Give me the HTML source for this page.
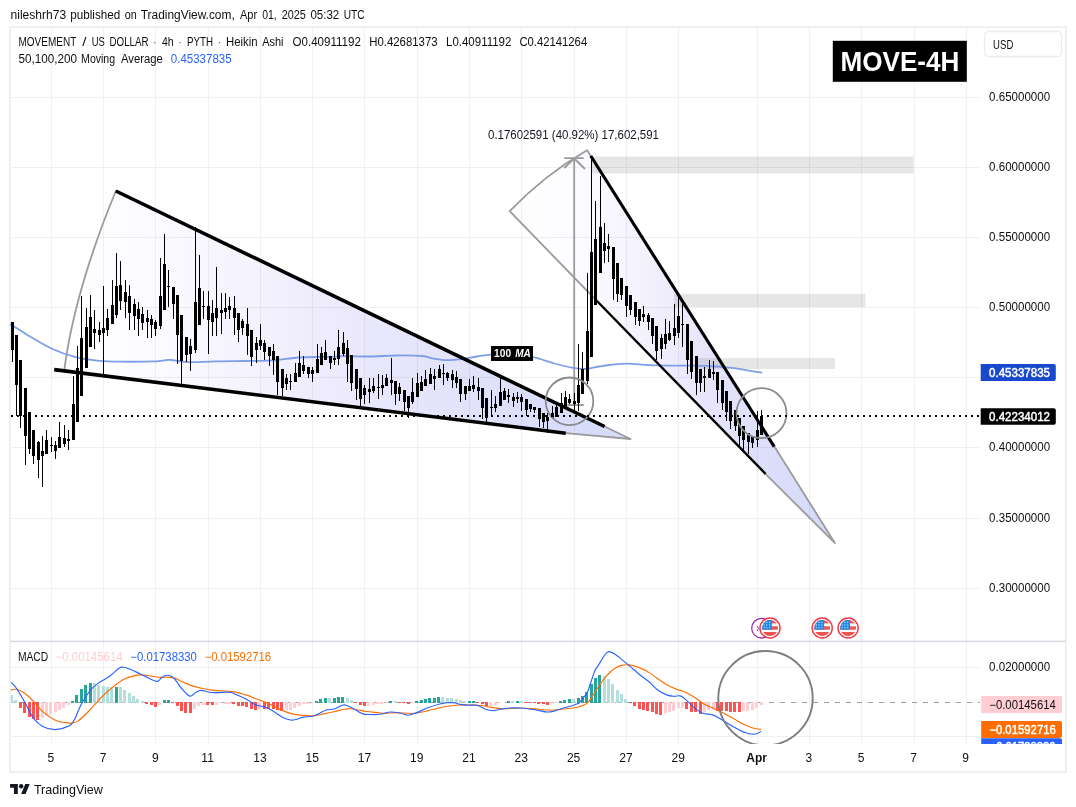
<!DOCTYPE html>
<html lang="en"><head><meta charset="utf-8"><title>MOVE-4H chart</title>
<style>
html,body{margin:0;padding:0;background:#fff;}
body{width:1076px;height:807px;overflow:hidden;position:relative;font-family:"Liberation Sans", Arial, sans-serif;}
svg{position:absolute;left:0;top:0;display:block}
text{font-family:"Liberation Sans", Arial, sans-serif;}
</style></head><body>
<svg width="1076" height="807" viewBox="0 0 1076 807">
<defs>
<linearGradient id="g1" gradientUnits="userSpaceOnUse" x1="64" y1="0" x2="630" y2="0">
<stop offset="0" stop-color="#ffffff"/><stop offset="0.2" stop-color="#faf9ff"/><stop offset="0.55" stop-color="#e9e7fb"/><stop offset="0.85" stop-color="#dbdefa"/><stop offset="1" stop-color="#d3dcfa"/>
</linearGradient>
<linearGradient id="g2" gradientUnits="userSpaceOnUse" x1="510" y1="0" x2="835" y2="0">
<stop offset="0" stop-color="#ffffff"/><stop offset="0.25" stop-color="#fbfaff"/><stop offset="0.4" stop-color="#f4f2fd"/><stop offset="0.6" stop-color="#e8e5fb"/><stop offset="0.8" stop-color="#dcdefa"/><stop offset="1" stop-color="#d3dcfa"/>
</linearGradient>
<clipPath id="cm"><rect x="11" y="642" width="1055" height="102"/></clipPath>
<clipPath id="flag"><circle cx="0" cy="0" r="8"/></clipPath>
<g id="us">
<circle cx="0" cy="0" r="10.05" fill="#fff" stroke="#f23645" stroke-width="1.45"/>
<g clip-path="url(#flag)">
<rect x="-8" y="-8" width="16" height="16" fill="#fbfcff"/>
<rect x="-8" y="-8" width="16" height="3.4" fill="#ef5350"/>
<rect x="-8" y="-1.7" width="16" height="3.4" fill="#ef5350"/>
<rect x="-8" y="4" width="16" height="4" fill="#ef5350"/>
<rect x="-8" y="-8" width="9.9" height="9.7" fill="#1e88e5"/>
<g fill="#fff"><rect x="-6.4" y="-6.1" width="1" height="1"/><rect x="-3.7" y="-6.1" width="1" height="1"/><rect x="-0.9" y="-6.1" width="1" height="1"/>
<rect x="-6.4" y="-3.5" width="1" height="1"/><rect x="-3.7" y="-3.5" width="1" height="1"/><rect x="-0.9" y="-3.5" width="1" height="1"/>
<rect x="-6.4" y="-0.8" width="1" height="1"/><rect x="-3.7" y="-0.8" width="1" height="1"/><rect x="-0.9" y="-0.8" width="1" height="1"/></g>
</g></g>
</defs>

<rect x="10" y="27" width="1056" height="745" fill="#fff" stroke="#efefef" stroke-width="1.8"/>
<rect x="10" y="640.6" width="1056" height="1.6" fill="#d6d9e0"/>
<path d="M64.5 368.5Q75 290 115.8 191L604.6 426.5L630.5 439L565.7 433.2L54.2 369.6Z" fill="url(#g1)"/>
<path d="M509.7 211.2Q544 175.2 587 150.2L591.5 157L774.4 446.6L835 543.2L765.5 473.8Z" fill="url(#g2)"/>
<rect x="591.5" y="156.5" width="322.2" height="17" fill="#808080" fill-opacity="0.2"/>
<rect x="674" y="294" width="191.5" height="13" fill="#808080" fill-opacity="0.2"/>
<rect x="694.5" y="358" width="140.5" height="11" fill="#808080" fill-opacity="0.2"/>
<path d="M51.5 28V641M51.5 642V744 M103.5 28V641M103.5 642V744 M155.5 28V641M155.5 642V744 M208.5 28V641M208.5 642V744 M260.5 28V641M260.5 642V744 M312.5 28V641M312.5 642V744 M364.5 28V641M364.5 642V744 M417.5 28V641M417.5 642V744 M469.5 28V641M469.5 642V744 M521.5 28V641M521.5 642V744 M574.5 28V641M574.5 642V744 M626.5 28V641M626.5 642V744 M678.5 28V641M678.5 642V744 M757.5 28V641M757.5 642V744 M809.5 28V641M809.5 642V744 M861.5 28V641M861.5 642V744 M914.5 28V641M914.5 642V744 M966.5 28V641M966.5 642V744 M11 97.5H980 M11 167.5H980 M11 237.5H980 M11 307.5H980 M11 377.5H980 M11 447.5H980 M11 518.5H980 M11 588.5H980 M11 667.5H980 M11 736.5H980" stroke="#000" stroke-opacity="0.057" stroke-width="1" fill="none" shape-rendering="crispEdges"/>
<g fill="none" stroke="#9b9b9b" stroke-width="1.8" stroke-linejoin="round" stroke-linecap="round">
<path d="M64.5 368.5Q75 290 115.8 191"/>
<path d="M604.6 426.5L630.5 439L565.7 433.2"/>
<path d="M595.5 299.5L509.7 211.2Q544 175.2 587 150.2L591.5 157"/>
<path d="M774.4 446.6L835 543.2L765.5 473.8"/>
<path d="M574.2 405V158.5M565 158.2H583M564.8 167.5L574.2 158.5L584.5 168.5M568 405H583"/>
</g>
<path d="M10.7 324.5C14.0 326.5 23.3 332.6 30.3 336.7C37.3 340.8 45.1 345.6 52.5 349.0C59.9 352.4 67.4 354.9 74.8 356.8C82.2 358.7 89.0 359.8 97.0 360.6C105.0 361.4 112.8 361.6 122.6 361.7C132.4 361.8 148.6 361.6 156.0 361.3C163.4 361.0 164.8 360.2 167.3 360.0C169.8 359.8 169.2 359.8 171.0 360.0C172.8 360.2 175.0 360.6 178.0 361.0C181.0 361.4 182.7 362.1 189.0 362.2C195.3 362.2 206.5 361.5 215.8 361.3C225.1 361.1 235.5 361.1 245.0 361.0C254.5 360.9 263.9 361.0 272.8 360.4C281.7 359.8 290.0 358.1 298.6 357.5C307.2 356.9 316.7 357.1 324.4 356.9C332.1 356.7 337.4 356.3 345.0 356.2C352.6 356.1 361.2 356.6 369.7 356.5C378.2 356.4 387.1 355.6 395.8 355.5C404.5 355.4 415.4 355.5 421.8 356.0C428.2 356.5 429.8 357.9 434.0 358.6C438.2 359.3 442.6 360.1 447.3 360.2C452.0 360.3 457.2 359.6 462.2 359.0C467.1 358.4 472.2 357.2 477.0 356.5C481.8 355.8 485.2 355.0 491.0 354.7C496.8 354.4 505.0 354.1 512.0 354.5C519.0 354.9 525.9 355.7 533.0 357.2C540.1 358.7 547.8 361.7 554.6 363.5C561.4 365.3 569.0 367.1 574.0 368.0C579.0 368.9 580.2 369.2 584.4 369.0C588.6 368.8 595.0 367.2 599.3 366.5C603.6 365.8 605.3 365.5 610.0 365.0C614.7 364.5 620.9 363.6 627.6 363.6C634.3 363.6 641.3 364.8 650.0 365.1C658.7 365.4 669.9 365.5 679.8 365.6C689.7 365.8 700.8 365.6 709.5 366.0C718.2 366.4 725.0 367.0 731.8 367.8C738.5 368.6 745.0 370.0 750.0 370.8C755.0 371.6 759.6 372.3 761.5 372.6" fill="none" stroke="#7f9ee8" stroke-width="1.8" stroke-linejoin="round" stroke-linecap="round"/>
<path d="M11 322h3V350h-3ZM12 322h1V362h-1ZM15 335h3V385h-3ZM16 335h1V416h-1ZM19 360h3V416h-3ZM20 360h1V428h-1ZM24 388h3V436h-3ZM25 388h1V465h-1ZM28 412h3V449h-3ZM29 412h1V454h-1ZM32 430h3V456h-3ZM33 430h1V464h-1ZM37 442h3V460h-3ZM38 441h1V478h-1ZM41 451h3V456h-3ZM42 436h1V487h-1ZM45 440h3V454h-3ZM46 430h1V454h-1ZM50 445h3V446h-3ZM51 437h1V452h-1ZM54 445h3V451h-3ZM55 441h1V459h-1ZM58 437h3V448h-3ZM59 422h1V448h-1ZM63 438h3V444h-3ZM64 425h1V447h-1ZM67 439h3V441h-3ZM68 430h1V450h-1ZM72 404h3V440h-3ZM73 376h1V440h-1ZM76 368h3V422h-3ZM77 346h1V422h-1ZM80 338h3V396h-3ZM81 296h1V396h-1ZM85 327h3V368h-3ZM86 308h1V368h-1ZM89 317h3V347h-3ZM90 295h1V347h-1ZM93 329h3V333h-3ZM94 310h1V349h-1ZM98 330h3V335h-3ZM99 322h1V342h-1ZM102 328h3V333h-3ZM103 286h1V377h-1ZM106 318h3V330h-3ZM107 309h1V336h-1ZM111 305h3V324h-3ZM112 280h1V324h-1ZM115 286h3V315h-3ZM116 253h1V318h-1ZM119 285h3V301h-3ZM120 261h1V310h-1ZM124 292h3V302h-3ZM125 280h1V318h-1ZM128 296h3V313h-3ZM129 285h1V330h-1ZM133 304h3V316h-3ZM134 299h1V330h-1ZM137 309h3V319h-3ZM138 302h1V336h-1ZM141 314h3V323h-3ZM142 307h1V330h-1ZM146 318h3V322h-3ZM147 310h1V338h-1ZM150 319h3V325h-3ZM151 315h1V338h-1ZM154 322h3V329h-3ZM155 320h1V336h-1ZM159 296h3V326h-3ZM160 258h1V329h-1ZM163 264h3V310h-3ZM164 234h1V310h-1ZM167 286h3V287h-3ZM168 270h1V307h-1ZM172 287h3V304h-3ZM173 287h1V319h-1ZM176 295h3V335h-3ZM177 295h1V364h-1ZM180 315h3V361h-3ZM181 315h1V387h-1ZM185 337h3V355h-3ZM186 337h1V362h-1ZM189 346h3V354h-3ZM190 339h1V371h-1ZM194 302h3V350h-3ZM195 227h1V353h-1ZM198 288h3V325h-3ZM199 255h1V325h-1ZM202 306h3V307h-3ZM203 291h1V319h-1ZM207 306h3V320h-3ZM208 291h1V354h-1ZM211 313h3V322h-3ZM212 300h1V336h-1ZM215 308h3V318h-3ZM216 267h1V336h-1ZM220 310h3V313h-3ZM221 293h1V334h-1ZM224 308h3V312h-3ZM225 293h1V319h-1ZM228 306h3V310h-3ZM229 297h1V319h-1ZM233 308h3V318h-3ZM234 296h1V335h-1ZM237 313h3V330h-3ZM238 313h1V342h-1ZM241 321h3V328h-3ZM242 319h1V335h-1ZM246 324h3V336h-3ZM247 308h1V355h-1ZM250 330h3V357h-3ZM251 330h1V366h-1ZM255 343h3V350h-3ZM256 337h1V363h-1ZM259 340h3V346h-3ZM260 324h1V350h-1ZM263 343h3V352h-3ZM264 340h1V360h-1ZM268 347h3V356h-3ZM269 347h1V366h-1ZM272 351h3V360h-3ZM273 344h1V375h-1ZM276 356h3V382h-3ZM277 356h1V395h-1ZM281 369h3V388h-3ZM282 369h1V396h-1ZM285 378h3V384h-3ZM286 374h1V390h-1ZM289 381h3V382h-3ZM290 374h1V390h-1ZM294 373h3V382h-3ZM295 363h1V382h-1ZM298 363h3V377h-3ZM299 351h1V377h-1ZM302 365h3V371h-3ZM303 356h1V374h-1ZM307 367h3V374h-3ZM308 367h1V378h-1ZM311 370h3V374h-3ZM312 367h1V382h-1ZM316 359h3V373h-3ZM317 344h1V373h-1ZM320 353h3V365h-3ZM321 347h1V365h-1ZM324 352h3V360h-3ZM325 340h1V360h-1ZM329 356h3V363h-3ZM330 356h1V369h-1ZM333 358h3V360h-3ZM334 351h1V365h-1ZM337 347h3V359h-3ZM338 330h1V365h-1ZM342 343h3V354h-3ZM343 332h1V356h-1ZM346 348h3V364h-3ZM347 340h1V382h-1ZM350 355h3V383h-3ZM351 355h1V391h-1ZM355 369h3V389h-3ZM356 369h1V400h-1ZM359 378h3V399h-3ZM360 378h1V406h-1ZM363 388h3V395h-3ZM364 385h1V404h-1ZM368 389h3V392h-3ZM369 378h1V403h-1ZM372 386h3V391h-3ZM373 378h1V393h-1ZM377 387h3V388h-3ZM378 374h1V399h-1ZM381 385h3V388h-3ZM382 375h1V395h-1ZM385 378h3V386h-3ZM386 374h1V386h-1ZM390 380h3V383h-3ZM391 358h1V395h-1ZM394 381h3V394h-3ZM395 381h1V405h-1ZM398 387h3V394h-3ZM399 383h1V401h-1ZM403 390h3V402h-3ZM404 390h1V411h-1ZM407 396h3V408h-3ZM408 396h1V418h-1ZM411 392h3V402h-3ZM412 378h1V404h-1ZM416 383h3V397h-3ZM417 373h1V397h-1ZM420 382h3V391h-3ZM421 376h1V391h-1ZM424 379h3V386h-3ZM425 370h1V386h-1ZM429 374h3V384h-3ZM430 368h1V384h-1ZM433 376h3V379h-3ZM434 369h1V390h-1ZM438 369h3V378h-3ZM439 365h1V378h-1ZM442 373h3V374h-3ZM443 364h1V385h-1ZM446 373h3V378h-3ZM447 372h1V381h-1ZM451 374h3V380h-3ZM452 370h1V388h-1ZM455 377h3V383h-3ZM456 371h1V388h-1ZM459 379h3V394h-3ZM460 379h1V402h-1ZM464 386h3V394h-3ZM465 386h1V400h-1ZM468 386h3V391h-3ZM469 379h1V391h-1ZM472 385h3V389h-3ZM473 376h1V392h-1ZM477 387h3V391h-3ZM478 378h1V400h-1ZM481 388h3V408h-3ZM482 388h1V419h-1ZM485 398h3V418h-3ZM486 398h1V422h-1ZM490 407h3V408h-3ZM491 390h1V415h-1ZM494 404h3V408h-3ZM495 396h1V412h-1ZM499 392h3V406h-3ZM500 378h1V406h-1ZM503 391h3V400h-3ZM504 388h1V400h-1ZM507 395h3V397h-3ZM508 389h1V403h-1ZM512 397h3V401h-3ZM513 393h1V407h-1ZM516 397h3V399h-3ZM517 392h1V403h-1ZM520 397h3V402h-3ZM521 394h1V411h-1ZM525 399h3V410h-3ZM526 399h1V416h-1ZM529 404h3V409h-3ZM530 404h1V412h-1ZM533 407h3V410h-3ZM534 407h1V413h-1ZM538 408h3V419h-3ZM539 408h1V427h-1ZM542 413h3V422h-3ZM543 413h1V428h-1ZM546 417h3V421h-3ZM547 413h1V433h-1ZM551 413h3V418h-3ZM552 406h1V418h-1ZM555 407h3V417h-3ZM556 404h1V417h-1ZM560 403h3V413h-3ZM561 393h1V413h-1ZM564 397h3V407h-3ZM565 391h1V407h-1ZM568 399h3V403h-3ZM569 394h1V404h-1ZM573 401h3V404h-3ZM574 393h1V411h-1ZM577 385h3V403h-3ZM578 344h1V411h-1ZM581 369h3V394h-3ZM582 352h1V394h-1ZM586 331h3V381h-3ZM587 273h1V384h-1ZM590 252h3V357h-3ZM591 157h1V357h-1ZM594 239h3V305h-3ZM595 201h1V305h-1ZM599 227h3V273h-3ZM600 176h1V273h-1ZM603 243h3V251h-3ZM604 223h1V263h-1ZM607 246h3V249h-3ZM608 234h1V262h-1ZM612 247h3V279h-3ZM613 247h1V300h-1ZM616 263h3V294h-3ZM617 263h1V302h-1ZM620 278h3V295h-3ZM621 278h1V300h-1ZM625 286h3V306h-3ZM626 286h1V317h-1ZM629 295h3V310h-3ZM630 295h1V315h-1ZM634 302h3V317h-3ZM635 302h1V325h-1ZM638 309h3V321h-3ZM639 309h1V326h-1ZM642 314h3V317h-3ZM643 306h1V322h-1ZM647 315h3V322h-3ZM648 313h1V330h-1ZM651 318h3V336h-3ZM652 318h1V344h-1ZM655 326h3V351h-3ZM656 326h1V360h-1ZM660 338h3V349h-3ZM661 334h1V359h-1ZM664 334h3V344h-3ZM665 319h1V349h-1ZM668 333h3V340h-3ZM669 321h1V341h-1ZM673 328h3V336h-3ZM674 304h1V345h-1ZM677 316h3V333h-3ZM678 297h1V338h-1ZM681 324h3V325h-3ZM682 304h1V347h-1ZM686 324h3V360h-3ZM687 324h1V374h-1ZM690 341h3V372h-3ZM691 341h1V379h-1ZM695 356h3V383h-3ZM696 356h1V395h-1ZM699 369h3V383h-3ZM700 369h1V392h-1ZM703 376h3V378h-3ZM704 367h1V392h-1ZM708 369h3V378h-3ZM709 360h1V378h-1ZM712 372h3V374h-3ZM713 361h1V380h-1ZM716 372h3V390h-3ZM717 372h1V403h-1ZM721 380h3V403h-3ZM722 380h1V410h-1ZM725 391h3V412h-3ZM726 391h1V421h-1ZM729 401h3V421h-3ZM730 401h1V429h-1ZM734 410h3V426h-3ZM735 410h1V431h-1ZM738 418h3V436h-3ZM739 418h1V447h-1ZM742 426h3V440h-3ZM743 426h1V450h-1ZM747 433h3V442h-3ZM748 433h1V454h-1ZM751 436h3V443h-3ZM752 436h1V448h-1ZM756 430h3V440h-3ZM757 411h1V447h-1ZM760 416h3V435h-3ZM761 410h1V435h-1Z" fill="#000" shape-rendering="crispEdges"/>
<g stroke="#000" fill="none" stroke-linecap="butt">
<path d="M115.8 191L604.6 426.5" stroke-width="3.6"/>
<path d="M54.2 369.6L565.7 433.2" stroke-width="3.6"/>
<path d="M590.8 156L774.2 446.6" stroke-width="3.1"/>
<path d="M595.5 299.5L765.5 473.8" stroke-width="2.4"/>
</g>
<circle cx="569.5" cy="401.3" r="23.8" fill="none" stroke="#8a8a8a" stroke-width="1.8"/>
<circle cx="761.5" cy="413.2" r="25" fill="none" stroke="#8a8a8a" stroke-width="1.8"/>
<path d="M11 416H979" stroke="#000" stroke-width="2" stroke-dasharray="2 4" fill="none" shape-rendering="crispEdges"/>
<rect x="491" y="346" width="42" height="15" fill="#000"/>
<text y="357.2" font-size="10.5" font-weight="bold" fill="#fff"><tspan x="494.1" textLength="17.1" lengthAdjust="spacingAndGlyphs">100</tspan> <tspan x="515.2" font-style="italic" textLength="15.6" lengthAdjust="spacingAndGlyphs">MA</tspan></text>
<rect x="832.8" y="40.8" width="134" height="41" fill="#000"/>
<text x="840.4" y="71.4" font-size="28" font-weight="bold" fill="#fff" textLength="119" lengthAdjust="spacingAndGlyphs">MOVE-4H</text>
<text x="488" y="139" font-size="12" fill="#131722" textLength="171" lengthAdjust="spacingAndGlyphs">0.17602591 (40.92%) 17,602,591</text>
<circle cx="761.5" cy="628.2" r="9.8" fill="#fff" stroke="#9c27b0" stroke-width="1.3"/>
<path d="M757 626l1.5 2.5-1.5 2.5" stroke="#9c27b0" stroke-width="1" fill="none"/>
<use href="#us" x="770" y="628"/>
<use href="#us" x="822.2" y="628"/>
<use href="#us" x="848.1" y="628"/>
<g clip-path="url(#cm)">
<path d="M9.8 702.5H980" stroke="#9c9ea6" stroke-width="1" stroke-dasharray="5.5 5.5" fill="none" shape-rendering="crispEdges"/>
<path d="M71 701h3V703h-3ZM75 695h3V703h-3ZM80 689h3V703h-3ZM84 685h3V703h-3ZM89 683h3V703h-3ZM115 687h3V703h-3ZM163 700h3V703h-3ZM167 700h3V703h-3ZM315 701h3V703h-3ZM319 699h3V703h-3ZM324 698h3V703h-3ZM333 698h3V703h-3ZM337 697h3V703h-3ZM341 697h3V703h-3ZM389 701h3V703h-3ZM415 701h3V703h-3ZM420 700h3V703h-3ZM424 699h3V703h-3ZM428 698h3V703h-3ZM433 698h3V703h-3ZM437 697h3V703h-3ZM468 701h3V703h-3ZM472 701h3V703h-3ZM507 701h3V703h-3ZM516 701h3V703h-3ZM559 701h3V703h-3ZM563 700h3V703h-3ZM568 699h3V703h-3ZM577 698h3V703h-3ZM581 696h3V703h-3ZM585 692h3V703h-3ZM590 684h3V703h-3ZM594 678h3V703h-3ZM598 675h3V703h-3Z" fill="#26a69a" shape-rendering="crispEdges"/>
<path d="M10 695h3V703h-3ZM14 700h3V703h-3ZM93 683h3V703h-3ZM97 685h3V703h-3ZM102 686h3V703h-3ZM106 687h3V703h-3ZM110 687h3V703h-3ZM119 687h3V703h-3ZM123 690h3V703h-3ZM128 693h3V703h-3ZM132 696h3V703h-3ZM136 699h3V703h-3ZM141 701h3V703h-3ZM328 698h3V703h-3ZM346 698h3V703h-3ZM350 700h3V703h-3ZM394 701h3V703h-3ZM441 697h3V703h-3ZM446 698h3V703h-3ZM450 698h3V703h-3ZM455 699h3V703h-3ZM459 700h3V703h-3ZM463 701h3V703h-3ZM511 701h3V703h-3ZM520 701h3V703h-3ZM572 699h3V703h-3ZM603 676h3V703h-3ZM607 679h3V703h-3ZM611 684h3V703h-3ZM616 690h3V703h-3ZM620 694h3V703h-3ZM624 699h3V703h-3Z" fill="#b2dfdb" shape-rendering="crispEdges"/>
<path d="M19 702h3V708h-3ZM23 702h3V713h-3ZM28 702h3V717h-3ZM32 702h3V719h-3ZM36 702h3V720h-3ZM145 702h3V704h-3ZM150 702h3V705h-3ZM154 702h3V707h-3ZM171 702h3V703h-3ZM176 702h3V706h-3ZM180 702h3V711h-3ZM184 702h3V713h-3ZM189 702h3V713h-3ZM206 702h3V705h-3ZM211 702h3V705h-3ZM232 702h3V704h-3ZM237 702h3V706h-3ZM241 702h3V706h-3ZM245 702h3V707h-3ZM250 702h3V709h-3ZM254 702h3V710h-3ZM263 702h3V709h-3ZM267 702h3V709h-3ZM272 702h3V709h-3ZM276 702h3V710h-3ZM280 702h3V711h-3ZM354 702h3V703h-3ZM359 702h3V705h-3ZM363 702h3V706h-3ZM398 702h3V703h-3ZM402 702h3V703h-3ZM407 702h3V704h-3ZM476 702h3V703h-3ZM481 702h3V704h-3ZM485 702h3V706h-3ZM524 702h3V703h-3ZM529 702h3V703h-3ZM533 702h3V703h-3ZM537 702h3V704h-3ZM542 702h3V704h-3ZM546 702h3V705h-3ZM629 702h3V703h-3ZM633 702h3V706h-3ZM638 702h3V709h-3ZM642 702h3V710h-3ZM646 702h3V711h-3ZM651 702h3V712h-3ZM655 702h3V714h-3ZM659 702h3V715h-3ZM685 702h3V709h-3ZM690 702h3V712h-3ZM694 702h3V712h-3ZM699 702h3V714h-3ZM716 702h3V711h-3ZM720 702h3V711h-3ZM725 702h3V711h-3ZM729 702h3V712h-3ZM733 702h3V712h-3ZM738 702h3V712h-3Z" fill="#ff5252" shape-rendering="crispEdges"/>
<path d="M41 702h3V718h-3ZM45 702h3V716h-3ZM49 702h3V714h-3ZM54 702h3V712h-3ZM58 702h3V710h-3ZM62 702h3V708h-3ZM67 702h3V705h-3ZM158 702h3V705h-3ZM193 702h3V709h-3ZM197 702h3V706h-3ZM202 702h3V705h-3ZM215 702h3V705h-3ZM219 702h3V703h-3ZM224 702h3V704h-3ZM228 702h3V704h-3ZM258 702h3V709h-3ZM285 702h3V710h-3ZM289 702h3V710h-3ZM293 702h3V708h-3ZM298 702h3V706h-3ZM302 702h3V704h-3ZM306 702h3V704h-3ZM311 702h3V703h-3ZM367 702h3V706h-3ZM372 702h3V705h-3ZM376 702h3V704h-3ZM380 702h3V704h-3ZM385 702h3V703h-3ZM411 702h3V703h-3ZM489 702h3V706h-3ZM494 702h3V705h-3ZM498 702h3V703h-3ZM550 702h3V703h-3ZM555 702h3V703h-3ZM664 702h3V713h-3ZM668 702h3V712h-3ZM672 702h3V711h-3ZM677 702h3V708h-3ZM681 702h3V708h-3ZM703 702h3V712h-3ZM707 702h3V710h-3ZM712 702h3V710h-3ZM742 702h3V711h-3ZM746 702h3V711h-3ZM751 702h3V710h-3ZM755 702h3V708h-3ZM760 702h3V705h-3Z" fill="#ffcdd2" shape-rendering="crispEdges"/>
<path d="M10.2 690.2C11.3 690.1 14.4 688.8 16.7 689.3C19.0 689.8 21.4 691.0 24.2 693.0C27.0 695.0 30.4 698.2 33.5 701.3C36.6 704.4 39.2 708.5 42.8 711.6C46.3 714.7 51.4 718.1 54.8 719.9C58.2 721.7 60.4 721.8 63.2 722.3C66.0 722.8 69.1 723.3 71.6 723.1C74.1 722.9 75.5 722.7 78.1 720.9C80.7 719.1 84.3 715.6 87.4 712.5C90.5 709.4 93.6 705.5 96.7 702.3C99.8 699.0 102.8 695.9 105.9 693.0C109.0 690.1 112.1 687.5 115.2 685.2C118.3 682.9 121.4 680.5 124.5 679.0C127.6 677.5 131.0 676.6 133.8 675.9C136.6 675.2 138.8 674.9 141.3 674.9C143.8 674.9 145.9 675.3 148.7 675.7C151.5 676.1 154.9 677.0 158.0 677.2C161.1 677.5 164.5 677.1 167.3 677.2C170.1 677.4 172.2 677.3 174.7 678.1C177.2 678.9 179.6 680.6 182.2 681.8C184.8 683.0 186.8 684.0 190.0 685.1C193.2 686.2 197.5 687.5 201.2 688.3C204.9 689.1 207.0 689.5 212.3 690.1C217.6 690.7 227.2 690.8 232.8 691.6C238.4 692.4 242.1 693.8 245.8 694.9C249.5 696.0 251.9 697.4 255.0 698.5C258.1 699.6 261.2 700.5 264.3 701.8C267.4 703.1 270.5 704.6 273.6 706.1C276.7 707.6 279.8 709.3 282.9 710.6C286.0 711.9 289.1 713.1 292.2 713.9C295.3 714.7 298.1 714.9 301.5 715.2C304.9 715.5 309.0 716.0 312.7 715.8C316.4 715.6 320.1 714.6 323.8 713.9C327.5 713.2 331.6 712.3 335.0 711.5C338.4 710.7 341.8 709.8 344.3 709.3C346.8 708.8 347.7 708.6 349.9 708.7C352.1 708.8 354.5 709.3 357.3 709.8C360.1 710.3 363.5 711.1 366.6 711.5C369.7 711.9 372.8 712.1 375.9 712.4C379.0 712.7 381.6 713.3 385.0 713.3C388.4 713.3 391.9 712.6 396.2 712.6C400.5 712.6 406.7 713.6 411.0 713.5C415.3 713.4 418.5 712.7 422.2 712.0C425.9 711.3 429.3 710.2 433.3 709.3C437.3 708.4 442.0 707.2 446.3 706.5C450.6 705.8 455.0 705.2 459.3 705.0C463.6 704.8 468.7 704.9 472.4 705.0C476.1 705.1 478.6 705.1 481.7 705.5C484.8 705.9 487.5 706.9 490.9 707.4C494.3 707.9 498.1 708.6 502.1 708.7C506.1 708.9 511.1 708.4 515.1 708.3C519.1 708.2 522.3 708.1 526.3 708.3C530.3 708.5 535.3 709.0 539.3 709.3C543.3 709.6 546.7 710.2 550.4 710.2C554.1 710.2 557.9 709.7 561.6 709.3C565.3 708.9 569.7 708.5 572.7 708.0C575.7 707.5 577.1 707.5 579.7 706.5C582.3 705.5 585.3 705.1 588.1 702.3C590.9 699.5 593.6 693.9 596.6 689.5C599.6 685.1 603.2 679.7 606.2 676.2C609.2 672.7 612.1 670.3 614.7 668.5C617.3 666.7 619.6 666.0 622.0 665.4C624.4 664.8 626.6 664.6 629.2 664.9C631.8 665.2 634.7 666.0 637.7 667.1C640.7 668.2 644.1 669.5 647.3 671.4C650.5 673.2 653.8 676.0 657.0 678.2C660.2 680.4 663.5 682.9 666.7 684.7C669.9 686.5 673.1 687.8 676.3 689.1C679.5 690.4 682.8 690.9 686.0 692.4C689.2 693.9 692.5 695.9 695.7 698.0C698.9 700.1 702.1 703.0 705.3 704.8C708.5 706.6 711.8 707.4 715.0 708.9C718.2 710.4 721.5 712.0 724.7 713.7C727.9 715.4 731.1 717.2 734.3 719.0C737.5 720.8 740.8 723.1 744.0 724.6C747.2 726.1 750.9 727.4 753.7 728.2C756.5 729.0 759.7 729.2 760.9 729.4" fill="none" stroke="#ff6d00" stroke-width="1.15" stroke-linejoin="round"/>
<path d="M11.2 682.4C12.1 683.5 14.5 685.6 16.7 688.7C18.9 691.9 21.4 696.4 24.2 701.3C27.0 706.2 30.4 713.9 33.5 718.1C36.6 722.3 39.2 724.5 42.8 726.4C46.3 728.3 50.5 729.6 54.8 729.6C59.1 729.6 65.5 727.7 68.8 726.1C72.0 724.5 72.1 723.7 74.3 719.9C76.5 716.1 79.0 708.3 81.8 703.2C84.6 698.1 88.0 692.9 91.1 689.3C94.2 685.7 97.3 684.0 100.4 681.8C103.5 679.6 106.6 678.5 109.7 676.2C112.8 674.0 116.7 669.8 119.0 668.3C121.3 666.8 121.8 667.1 123.6 667.3C125.4 667.4 127.1 668.0 130.1 669.2C133.1 670.4 137.0 672.4 141.3 674.4C145.6 676.4 152.7 680.5 155.8 681.3C158.9 682.1 158.6 680.2 159.9 679.4C161.2 678.5 162.2 676.9 163.6 676.2C165.0 675.5 166.5 675.0 168.2 675.3C169.9 675.6 171.6 676.0 173.8 678.1C176.0 680.2 178.6 685.0 181.2 688.0C183.8 691.0 187.2 695.4 189.6 696.1C192.0 696.9 193.7 693.5 195.6 692.5C197.5 691.5 198.4 690.3 201.2 690.3C204.0 690.3 207.7 692.2 212.3 692.5C216.9 692.8 225.3 692.0 229.0 692.2C232.7 692.5 231.8 692.9 234.6 694.0C237.4 695.1 242.4 697.2 245.8 699.0C249.2 700.8 251.9 703.3 255.0 704.6C258.1 705.9 261.5 705.9 264.3 706.8C267.1 707.7 268.7 708.4 271.8 710.2C274.9 712.0 279.8 716.0 282.9 717.6C286.0 719.2 288.2 719.7 290.4 720.0C292.6 720.3 293.8 720.0 296.0 719.5C298.2 719.0 300.6 717.6 303.4 717.1C306.2 716.6 309.9 717.0 312.7 716.3C315.5 715.6 317.9 714.0 320.1 713.0C322.3 712.0 323.2 710.9 325.7 710.2C328.2 709.5 332.2 709.5 335.0 708.7C337.8 707.9 340.5 705.8 342.4 705.2C344.2 704.6 344.2 704.6 346.1 705.2C348.0 705.8 350.8 707.2 353.6 708.7C356.4 710.2 360.1 712.9 362.9 713.9C365.7 714.9 367.5 714.4 370.3 714.5C373.1 714.6 376.2 714.7 379.6 714.3C383.0 713.9 387.2 712.2 390.6 712.0C394.0 711.8 397.0 712.5 399.9 713.0C402.8 713.5 405.4 715.3 408.2 715.2C411.0 715.1 413.3 713.8 416.6 712.6C419.9 711.4 423.8 709.3 427.8 707.8C431.8 706.3 437.7 704.5 440.8 703.7C443.9 702.9 444.1 702.9 446.3 702.8C448.5 702.6 451.3 702.5 453.8 702.8C456.3 703.1 458.7 704.2 461.2 704.6C463.7 705.0 465.8 705.1 468.6 705.2C471.4 705.4 475.1 704.8 477.9 705.5C480.7 706.2 482.9 708.4 485.4 709.3C487.9 710.2 490.3 710.7 492.8 710.7C495.3 710.7 497.4 709.8 500.2 709.3C503.0 708.8 506.1 708.2 509.5 708.0C512.9 707.8 517.0 707.8 520.7 708.0C524.4 708.2 528.7 708.9 531.8 709.3C534.9 709.7 536.8 710.1 539.3 710.6C541.8 711.1 544.2 711.9 546.7 712.0C549.2 712.1 551.3 711.8 554.1 711.1C556.9 710.4 560.3 708.9 563.4 708.0C566.5 707.1 570.2 706.2 572.7 705.5C575.2 704.8 577.1 704.2 578.3 703.6C579.5 703.0 578.9 703.3 580.0 702.0C581.1 700.7 583.6 697.6 584.8 696.0C586.0 694.4 586.3 694.8 587.4 692.3C588.5 689.8 589.9 684.9 591.2 681.2C592.5 677.5 593.9 672.8 595.2 670.0C596.5 667.2 597.4 666.8 599.0 664.2C600.6 661.6 603.4 656.6 605.0 654.5C606.6 652.4 607.3 651.8 608.7 651.6C610.1 651.4 611.5 652.1 613.5 653.3C615.5 654.5 617.9 656.4 620.7 658.6C623.5 660.8 627.2 663.9 630.4 666.6C633.6 669.3 636.9 672.4 640.1 675.0C643.3 677.6 646.9 679.9 649.7 682.3C652.5 684.7 654.2 687.4 657.0 689.5C659.8 691.6 663.9 693.8 666.7 694.9C669.5 696.0 671.5 696.1 673.9 696.3C676.3 696.5 678.8 695.1 681.2 696.1C683.6 697.1 686.0 700.0 688.4 702.1C690.8 704.2 693.3 707.0 695.7 708.9C698.1 710.8 700.1 712.2 702.9 713.2C705.7 714.2 709.8 714.0 712.6 714.9C715.4 715.8 717.0 716.9 719.8 718.5C722.6 720.1 726.3 722.7 729.5 724.6C732.7 726.5 736.4 728.5 739.2 729.9C742.0 731.3 744.2 732.3 746.4 733.0C748.6 733.7 750.7 734.1 752.5 734.2C754.3 734.3 755.9 734.0 757.3 733.5C758.7 733.0 760.3 731.7 760.9 731.3" fill="none" stroke="#2962ff" stroke-width="1.15" stroke-linejoin="round"/>
<circle cx="765.5" cy="698.2" r="47.2" fill="none" stroke="#7d7d7d" stroke-width="1.9"/>
</g>
<text x="989.1" y="100.8" font-size="12" fill="#0e0e10" textLength="61" lengthAdjust="spacingAndGlyphs">0.65000000</text>
<text x="989.1" y="170.8" font-size="12" fill="#0e0e10" textLength="61" lengthAdjust="spacingAndGlyphs">0.60000000</text>
<text x="989.1" y="240.8" font-size="12" fill="#0e0e10" textLength="61" lengthAdjust="spacingAndGlyphs">0.55000000</text>
<text x="989.1" y="310.8" font-size="12" fill="#0e0e10" textLength="61" lengthAdjust="spacingAndGlyphs">0.50000000</text>
<text x="989.1" y="380.8" font-size="12" fill="#0e0e10" textLength="61" lengthAdjust="spacingAndGlyphs">0.45000000</text>
<text x="989.1" y="450.8" font-size="12" fill="#0e0e10" textLength="61" lengthAdjust="spacingAndGlyphs">0.40000000</text>
<text x="989.1" y="521.8" font-size="12" fill="#0e0e10" textLength="61" lengthAdjust="spacingAndGlyphs">0.35000000</text>
<text x="989.1" y="591.8" font-size="12" fill="#0e0e10" textLength="61" lengthAdjust="spacingAndGlyphs">0.30000000</text>
<text x="989.1" y="671.3" font-size="12" fill="#0e0e10" textLength="61" lengthAdjust="spacingAndGlyphs">0.02000000</text>
<path d="M980.7 364H1053.8a2 2 0 0 1 2 2V379a2 2 0 0 1 -2 2H980.7Z" fill="#1848cc"/>
<text x="989" y="376.8" font-size="12" fill="#fff" stroke="#fff" stroke-width="0.45" textLength="61" lengthAdjust="spacingAndGlyphs">0.45337835</text>
<path d="M980.7 408.2H1053.8a2 2 0 0 1 2 2V422.7a2 2 0 0 1 -2 2H980.7Z" fill="#000"/>
<text x="989" y="420.8" font-size="12" fill="#fff" stroke="#fff" stroke-width="0.45" textLength="61" lengthAdjust="spacingAndGlyphs">0.42234012</text>
<path d="M981.2 696H1060a2 2 0 0 1 2 2V711a2 2 0 0 1 -2 2H981.2Z" fill="#ffcdd2"/>
<text x="989.3" y="708.8" font-size="12" fill="#0e0e10" textLength="66.5" lengthAdjust="spacingAndGlyphs">−0.00145614</text>
<g clip-path="url(#cm)">
<path d="M981.2 738.2H1060a2 2 0 0 1 2 2V753a2 2 0 0 1 -2 2H981.2Z" fill="#2962ff"/>
<text x="989.6" y="751" font-size="12" fill="#fff" stroke="#fff" stroke-width="0.45" textLength="66" lengthAdjust="spacingAndGlyphs">−0.01738330</text>
</g>
<path d="M981.2 721H1060a2 2 0 0 1 2 2V736a2 2 0 0 1 -2 2H981.2Z" fill="#ff6d00"/>
<text x="989.3" y="733.8" font-size="12" fill="#fff" stroke="#fff" stroke-width="0.45" textLength="66.5" lengthAdjust="spacingAndGlyphs">−0.01592716</text>
<rect x="984.5" y="31.5" width="77" height="25" rx="4" fill="#fff" stroke="#ebebeb" stroke-width="1.3"/>
<text x="993.1" y="48.9" font-size="12" fill="#0e0e10" textLength="20.2" lengthAdjust="spacingAndGlyphs">USD</text>
<text x="50.8" y="762" font-size="12" fill="#0e0e10" text-anchor="middle">5</text>
<text x="103.1" y="762" font-size="12" fill="#0e0e10" text-anchor="middle">7</text>
<text x="155.4" y="762" font-size="12" fill="#0e0e10" text-anchor="middle">9</text>
<text x="207.6" y="762" font-size="12" fill="#0e0e10" text-anchor="middle">11</text>
<text x="259.9" y="762" font-size="12" fill="#0e0e10" text-anchor="middle">13</text>
<text x="312.2" y="762" font-size="12" fill="#0e0e10" text-anchor="middle">15</text>
<text x="364.5" y="762" font-size="12" fill="#0e0e10" text-anchor="middle">17</text>
<text x="416.8" y="762" font-size="12" fill="#0e0e10" text-anchor="middle">19</text>
<text x="469.0" y="762" font-size="12" fill="#0e0e10" text-anchor="middle">21</text>
<text x="521.3" y="762" font-size="12" fill="#0e0e10" text-anchor="middle">23</text>
<text x="573.6" y="762" font-size="12" fill="#0e0e10" text-anchor="middle">25</text>
<text x="625.9" y="762" font-size="12" fill="#0e0e10" text-anchor="middle">27</text>
<text x="678.2" y="762" font-size="12" fill="#0e0e10" text-anchor="middle">29</text>
<text x="808.9" y="762" font-size="12" fill="#0e0e10" text-anchor="middle">3</text>
<text x="861.2" y="762" font-size="12" fill="#0e0e10" text-anchor="middle">5</text>
<text x="913.5" y="762" font-size="12" fill="#0e0e10" text-anchor="middle">7</text>
<text x="965.7" y="762" font-size="12" fill="#0e0e10" text-anchor="middle">9</text>
<text x="756.6" y="762" font-size="12" font-weight="bold" fill="#0e0e10" text-anchor="middle">Apr</text>
<text y="19" font-size="12" fill="#0e0e10"><tspan x="10.5" textLength="55.7" lengthAdjust="spacingAndGlyphs">nileshrh73</tspan> <tspan x="70.3" textLength="49.9" lengthAdjust="spacingAndGlyphs">published</tspan> <tspan x="124.7" textLength="12.0" lengthAdjust="spacingAndGlyphs">on</tspan> <tspan x="140.8" textLength="93.9" lengthAdjust="spacingAndGlyphs">TradingView.com,</tspan> <tspan x="239.9" textLength="17.2" lengthAdjust="spacingAndGlyphs">Apr</tspan> <tspan x="262.2" textLength="14.5" lengthAdjust="spacingAndGlyphs">01,</tspan> <tspan x="281.8" textLength="24.1" lengthAdjust="spacingAndGlyphs">2025</tspan> <tspan x="310.4" textLength="28.9" lengthAdjust="spacingAndGlyphs">05:32</tspan> <tspan x="343.7" textLength="20.9" lengthAdjust="spacingAndGlyphs">UTC</tspan></text>
<text y="46" font-size="12" fill="#0e0e10"><tspan x="18.4" textLength="57.7" lengthAdjust="spacingAndGlyphs">MOVEMENT</tspan> <tspan x="82.3" textLength="4.2" lengthAdjust="spacingAndGlyphs">/</tspan> <tspan x="91.7" textLength="13.1" lengthAdjust="spacingAndGlyphs">US</tspan> <tspan x="109.5" textLength="39.1" lengthAdjust="spacingAndGlyphs">DOLLAR</tspan> <tspan x="153.6" textLength="2.6" lengthAdjust="spacingAndGlyphs">·</tspan> <tspan x="161.9" textLength="11.7" lengthAdjust="spacingAndGlyphs">4h</tspan> <tspan x="178.7" textLength="2.6" lengthAdjust="spacingAndGlyphs">·</tspan> <tspan x="187" textLength="26.0" lengthAdjust="spacingAndGlyphs">PYTH</tspan> <tspan x="218" textLength="2.6" lengthAdjust="spacingAndGlyphs">·</tspan> <tspan x="226" textLength="31.6" lengthAdjust="spacingAndGlyphs">Heikin</tspan> <tspan x="262.3" textLength="21.2" lengthAdjust="spacingAndGlyphs">Ashi</tspan> <tspan x="292.5" textLength="68.4" lengthAdjust="spacingAndGlyphs">O0.40911192</tspan> <tspan x="369.2" textLength="68.4" lengthAdjust="spacingAndGlyphs">H0.42681373</tspan> <tspan x="446" textLength="65.4" lengthAdjust="spacingAndGlyphs">L0.40911192</tspan> <tspan x="519.4" textLength="67.8" lengthAdjust="spacingAndGlyphs">C0.42141264</tspan></text>
<text y="62.7" font-size="12" fill="#0e0e10"><tspan x="18.4" textLength="58.5" lengthAdjust="spacingAndGlyphs">50,100,200</tspan> <tspan x="81.1" textLength="34.0" lengthAdjust="spacingAndGlyphs">Moving</tspan> <tspan x="121" textLength="41.8" lengthAdjust="spacingAndGlyphs">Average</tspan></text>
<text x="170.8" y="62.7" font-size="12" fill="#2962ff" textLength="60.8" lengthAdjust="spacingAndGlyphs">0.45337835</text>
<text x="17.9" y="660.8" font-size="12" fill="#0e0e10" textLength="30.3" lengthAdjust="spacingAndGlyphs">MACD</text>
<text x="55.6" y="660.8" font-size="12" fill="#ffcdd2" textLength="67" lengthAdjust="spacingAndGlyphs">−0.00145614</text>
<text x="130.3" y="660.8" font-size="12" fill="#2962ff" textLength="66.6" lengthAdjust="spacingAndGlyphs">−0.01738330</text>
<text x="204.7" y="660.8" font-size="12" fill="#ff6d00" textLength="66.4" lengthAdjust="spacingAndGlyphs">−0.01592716</text>
<g transform="translate(10.1,781.8) scale(0.552)" fill="#131722"><path d="M14 22H7V11H0V4h14v18zM28 22h-8l7.5-18h8L28 22z"/><circle cx="20" cy="8" r="4"/></g>
<text x="33.9" y="793.5" font-size="13" fill="#0e0e10" textLength="69" lengthAdjust="spacingAndGlyphs">TradingView</text>
</svg></body></html>
